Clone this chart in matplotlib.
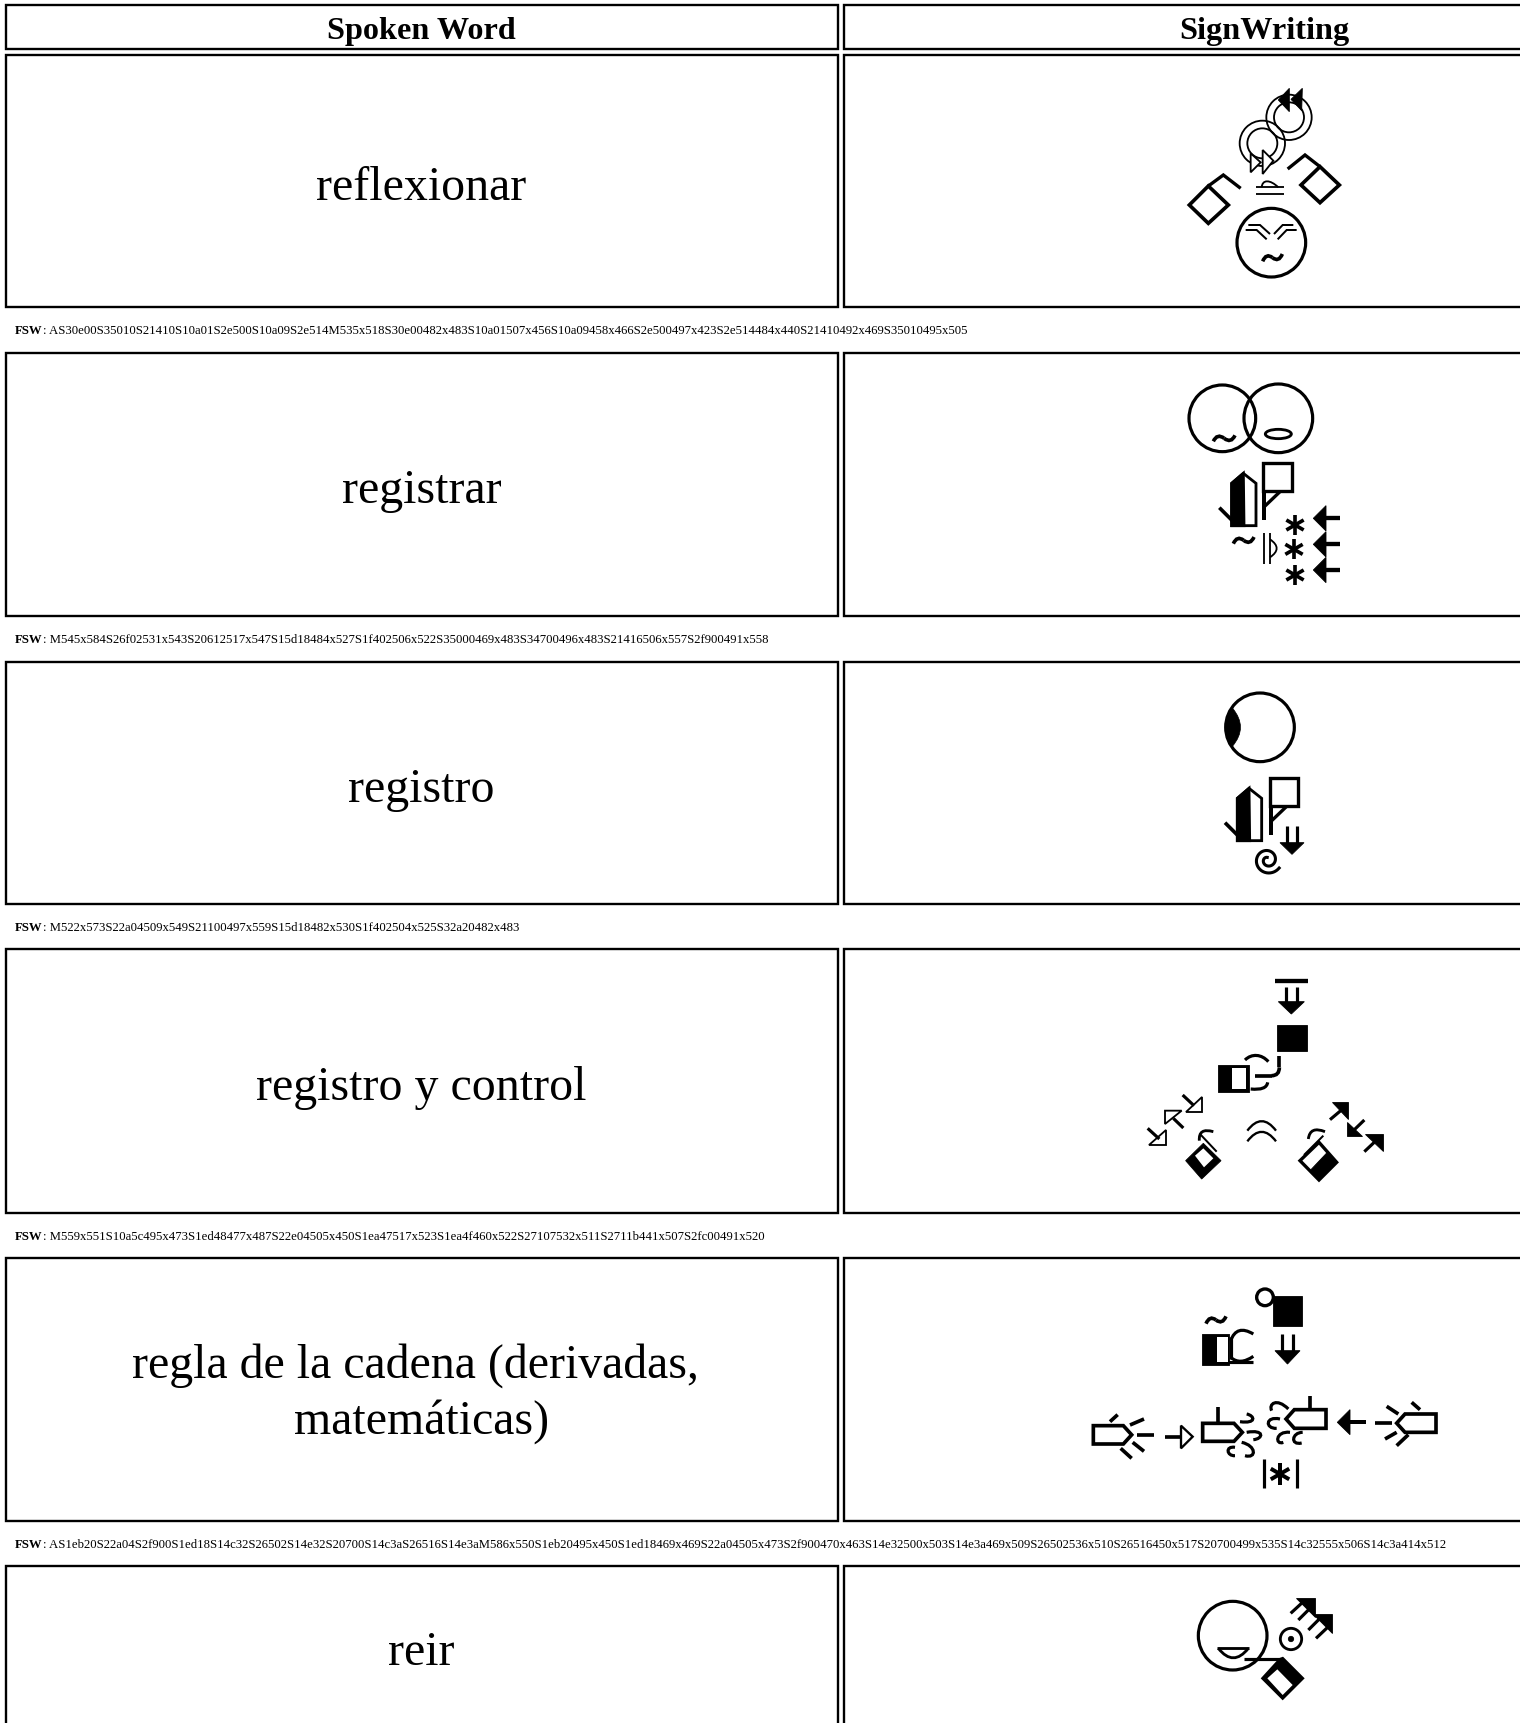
import numpy as np
import matplotlib
matplotlib.use('Agg')
import matplotlib.pyplot as plt
from matplotlib.patches import Rectangle, Polygon, Circle, Ellipse, PathPatch
from matplotlib.path import Path

# table content
headers = ['Spoken Word', 'SignWriting']
words = ['reflexionar', 'registrar', 'registro', 'registro y control',
         'regla de la cadena (derivadas, \nmatemáticas)', 'reir']
fsw = [
    'AS30e00S35010S21410S10a01S2e500S10a09S2e514M535x518S30e00482x483S10a01507x456S10a09458x466S2e500497x423S2e514484x440S21410492x469S35010495x505',
    'M545x584S26f02531x543S20612517x547S15d18484x527S1f402506x522S35000469x483S34700496x483S21416506x557S2f900491x558',
    'M522x573S22a04509x549S21100497x559S15d18482x530S1f402504x525S32a20482x483',
    'M559x551S10a5c495x473S1ed48477x487S22e04505x450S1ea47517x523S1ea4f460x522S27107532x511S2711b441x507S2fc00491x520',
    'AS1eb20S22a04S2f900S1ed18S14c32S26502S14e32S20700S14c3aS26516S14e3aM586x550S1eb20495x450S1ed18469x469S22a04505x473S2f900470x463S14e32500x503S14e3a469x509S26502536x510S26516450x517S20700499x535S14c32555x506S14c3a414x512',
]

# layout in pixels
W, H = 1520, 1724
col_x = [(6, 838), (844, 1540)]
header_y = (6, 50)
row_y = [(56, 308), (354, 617), (663, 905), (950, 1214), (1259, 1522), (1567, 1760)]

fig = plt.figure(figsize=(W / 100, H / 100), dpi=100)
ax = fig.add_axes([0, 0, 1, 1])
ax.set_xlim(0, W)
ax.set_ylim(H, 0)
ax.axis('off')

SERIF = 'Liberation Serif'
BORDER = 1.7


def cell(x0, x1, y0, y1):
    ax.add_patch(Rectangle((x0, y0), x1 - x0, y1 - y0, fc='white', ec='black', lw=BORDER))


for (x0, x1), title in zip(col_x, headers):
    cell(x0, x1, *header_y)
    ax.text((x0 + x1) / 2 - 1 if x1 < W else 1264, 31, title, family=SERIF, weight='bold',
            fontsize=23.2, ha='center', va='center')

for i, word in enumerate(words):
    y0, y1 = row_y[i]
    for x0, x1 in col_x:
        cell(x0, x1, y0, y1)
    yc = (y0 + y1) / 2 if i < 5 else 1650
    ax.text(421.5, yc + (6 if i < 4 else 3), word, family=SERIF, fontsize=34.5, ha='center', va='center',
            linespacing=1.3)
    if i < len(fsw):
        t = ax.text(15, y1 + 23, 'FSW', family=SERIF, weight='bold', fontsize=9.18, va='center')
        ax.annotate(': ' + fsw[i], xycoords=t, xy=(1, 0.5), va='center', family=SERIF, fontsize=9.18)

ox, oy = 0, 0
K = 1.2


def at(x, y):
    global ox, oy
    ox, oy = x, y


def P(pts):
    return [(ox + a / 3, oy + b / 3) for a, b in pts]


def line(*pts, lw=1.7):
    xy = P(pts)
    ax.plot([p[0] for p in xy], [p[1] for p in xy], color='black', lw=lw * K,
            solid_capstyle='butt', solid_joinstyle='miter')


def poly(*pts, fc='black', lw=1.7):
    ax.add_patch(Polygon(P(pts), closed=True, fc=fc, ec='black', lw=lw * K, joinstyle='miter'))


def circ(x, y, r, fc='none', lw=1.7):
    ax.add_patch(Circle(P([(x, y)])[0], r / 3, fc=fc, ec='black', lw=lw * K))


def curve(*pts, lw=1.7):
    # one quadratic or cubic bezier per call
    codes = [Path.MOVETO] + [Path.CURVE3 if len(pts) == 3 else Path.CURVE4] * (len(pts) - 1)
    ax.add_patch(PathPatch(Path(P(pts), codes), fc='none', ec='black', lw=lw * K, capstyle='butt'))


def tilde(x0, y0, x1, y1, lw=2.2):
    dx, dy = x1 - x0, y1 - y0
    curve((x0, y0 + 6), (x0 + dx * .18, y0 - 18 + dy * .2), (x0 + dx * .5, y0 + dy * .5),
          lw=lw)
    curve((x0 + dx * .5, y0 + dy * .5), (x0 + dx * .82, y1 + 18 - dy * .2), (x1, y1 - 6), lw=lw)


def star(x, y, r, lw=2.2):
    for a in (90, 30, 150):
        dx, dy = r * np.cos(np.radians(a)), r * np.sin(np.radians(a))
        line((x - dx, y - dy), (x + dx, y + dy), lw=lw)


def hand_v(dx, dy):
    # upright hand with black half and thumb
    poly((395 + dx, 497 + dy), (395 + dx, 370 + dy), (430 + dx, 340 + dy), (468 + dx, 370 + dy),
         (468 + dx, 497 + dy), fc='white')
    poly((395 + dx, 497 + dy), (395 + dx, 370 + dy), (430 + dx, 340 + dy), (432 + dx, 497 + dy))
    line((358 + dx, 443 + dy), (400 + dx, 485 + dy), lw=2.2)


def flag(dx, dy):
    ax.add_patch(Rectangle(P([(490 + dx, 310 + dy)])[0], 85 / 3, 82 / 3, fc='none', ec='black', lw=2.0 * K))
    line((493 + dx, 392 + dy), (493 + dx, 480 + dy), lw=2.4)
    line((493 + dx, 440 + dy), (540 + dx, 395 + dy), lw=2.0)


def down_arrow(x0, x1, y0, y1, tx0, tx1, tip):
    line((x0, y0), (x0, y1), lw=1.9)
    line((x1, y0), (x1, y1), lw=1.9)
    poly((tx0, y1), (tx1, y1), ((tx0 + tx1) / 2, tip), lw=0.5)


def bug(tip_x, base_x, top, bot):
    mid = (top + bot) / 2
    step = 25 if tip_x > base_x else -25
    poly((base_x, top), (tip_x - step, top), (tip_x, mid), (tip_x - step, bot), (base_x, bot), fc='white', lw=2.2)


# reflexionar
at(1100, 71)
circ(567, 142, 68, lw=1.1)
circ(567, 142, 45, lw=1.1)
circ(487, 220, 68, lw=1.1)
circ(487, 220, 45, lw=1.1)
poly((535, 90), (568, 55), (568, 125), lw=0.5)
poly((573, 88), (607, 55), (605, 122), lw=0.5)
poly((452, 250), (482, 277), (452, 307), fc='white', lw=1.1)
poly((488, 240), (520, 272), (488, 312), fc='white', lw=1.1)
poly((268, 405), (325, 460), (385, 405), (325, 348), fc='none', lw=2.2)
line((325, 348), (370, 315), (422, 355), lw=2.0)
poly((603, 345), (660, 398), (718, 345), (660, 290), fc='none', lw=2.2)
line((660, 290), (615, 255), (563, 297), lw=2.0)
line((468, 352), (553, 352), lw=1.1)
line((468, 372), (553, 372), lw=1.1)
curve((485, 352), (487, 328), (510, 328), (535, 352), lw=1.1)
circ(514, 518, 103, lw=1.9)
line((437, 480), (470, 480), (500, 508), lw=1.2)
line((445, 465), (480, 465), (510, 492), lw=1.2)
line((590, 480), (560, 480), (533, 508), lw=1.2)
line((580, 465), (548, 465), (522, 492), lw=1.2)
tilde(488, 568, 547, 558)

# registrar
at(1100, 361)
circ(367, 175, 100, lw=1.9)
circ(535, 175, 103, lw=1.9)
tilde(340, 238, 405, 232)
ax.add_patch(Ellipse(P([(535, 222)])[0], 78 / 3, 28 / 3, fc='none', ec='black', lw=1.7 * K))
hand_v(0, 0)
flag(0, 0)
tilde(400, 545, 462, 537)
line((492, 520), (492, 612), lw=1.1)
line((510, 520), (510, 612), lw=1.1)
curve((510, 538), (550, 565), (510, 592), lw=1.1)
star(585, 495, 30)
star(582, 568, 30)
star(585, 645, 30)
for ya in (475, 553, 630):
    poly((640, ya), (678, ya - 38), (678, ya + 38), lw=0.5)
    line((675, ya), (720, ya), lw=2.6)

# registro
at(1100, 671)
circ(480, 172, 103, lw=1.9)
ax.add_patch(PathPatch(Path(P([(398, 115), (355, 172), (398, 228), (445, 172), (398, 115)]),
                            [Path.MOVETO, Path.CURVE3, Path.CURVE3, Path.CURVE3, Path.CURVE3]),
                       fc='black', ec='black', lw=0.5))
hand_v(17, 15)
flag(19, 15)
down_arrow(562, 590, 468, 518, 540, 612, 553)
phi = np.radians(np.linspace(35, 620, 80))
rad = np.linspace(42, 8, 80)
ax.plot(*zip(*P(list(zip(503 + rad * np.cos(phi), 570 + rad * np.sin(phi))))), color='black', lw=2.2)

# registro y control
at(1120, 960)
line((465, 66), (565, 66), lw=2.6)
down_arrow(497, 530, 85, 128, 475, 553, 165)
poly((470, 198), (560, 198), (560, 277), (470, 277), lw=0.5)
poly((297, 322), (385, 322), (385, 397), (297, 397))
poly((337, 328), (378, 328), (378, 390), (337, 390), fc='white', lw=0)
curve((375, 303), (395, 283), (425, 285), (445, 308), lw=1.9)
line((478, 292), (478, 325), lw=2.2)
curve((478, 325), (478, 350), (455, 350), lw=2.2)
line((455, 350), (405, 350), lw=2.2)
curve((392, 390), (440, 395), (443, 370), lw=1.9)
poly((245, 415), (245, 458), (197, 458), fc='white', lw=1.1)
line((188, 408), (222, 440), lw=1.9)
poly((135, 455), (185, 455), (135, 495), fc='white', lw=1.1)
line((160, 478), (190, 507), lw=1.9)
poly((138, 512), (138, 557), (88, 557), fc='white', lw=1.1)
line((83, 508), (118, 540), lw=1.9)
poly((635, 430), (685, 430), (685, 480), lw=0.5)
line((630, 482), (668, 450), lw=1.9)
poly((680, 490), (680, 530), (725, 530), lw=0.5)
line((733, 483), (700, 515), lw=1.9)
poly((735, 525), (788, 525), (788, 575), lw=0.5)
line((733, 578), (768, 545), lw=1.9)
curve((382, 515), (425, 458), (468, 515), lw=1.4)
curve((382, 547), (425, 490), (468, 547), lw=1.4)
poly((197, 605), (250, 553), (303, 605), (245, 660), lw=0.5)
poly((225, 590), (250, 568), (280, 598), (252, 625), fc='white', lw=0)
curve((238, 545), (235, 505), (280, 518), lw=1.7)
line((240, 525), (290, 578), lw=1.2)
poly((540, 605), (597, 550), (650, 610), (597, 663), fc='white', lw=2.0)
poly((597, 663), (570, 635), (622, 580), (650, 610), lw=0.5)
curve((565, 540), (570, 500), (615, 518), lw=1.7)
line((610, 530), (552, 588), lw=1.2)

# regla de la cadena
at(1080, 1270)
circ(555, 85, 25, lw=2.0)
poly((578, 82), (667, 82), (667, 170), (578, 170), lw=0.5)
down_arrow(605, 640, 195, 245, 585, 660, 285)
tilde(378, 158, 438, 148)
poly((368, 197), (445, 197), (445, 285), (368, 285))
poly((410, 205), (445, 205), (445, 278), (410, 278), fc='white', lw=0)
line((452, 205), (452, 270), lw=1.9)
curve((520, 195), (470, 165), (452, 215), lw=1.9)
curve((452, 265), (480, 290), (520, 262), lw=1.9)
line((445, 278), (520, 278), lw=1.9)
bug(155, 40, 470, 525)
for a, b in [((90, 458), (113, 437)), ((150, 468), (192, 450)), ((172, 497), (222, 497)),
             ((158, 520), (192, 547)), ((122, 538), (155, 568))]:
    line(a, b, lw=2.2)
line((255, 503), (303, 503), lw=2.2)
poly((303, 470), (338, 503), (303, 538), fc='white', lw=1.4)
bug(487, 368, 463, 517)
line((415, 415), (415, 463), lw=2.2)
curve((480, 458), (530, 465), (525, 440), (500, 435), lw=1.9)
curve((500, 490), (555, 480), (550, 510), (520, 512), lw=1.9)
curve((465, 535), (435, 530), (440, 562), (465, 560), lw=1.9)
curve((485, 520), (530, 530), (530, 570), (495, 560), lw=1.9)
bug(618, 738, 422, 478)
line((690, 380), (690, 422), lw=2.2)
curve((625, 420), (590, 385), (565, 405), (575, 425), lw=1.9)
curve((600, 450), (555, 440), (555, 480), (590, 478), lw=1.9)
curve((630, 490), (585, 485), (585, 530), (610, 520), lw=1.9)
curve((668, 490), (635, 490), (630, 530), (665, 522), lw=1.9)
poly((772, 460), (810, 422), (810, 497), lw=0.5)
line((805, 460), (858, 460), lw=2.4)
bug(950, 1068, 435, 490)
for a, b in [((920, 412), (955, 435)), ((995, 400), (1020, 422)), ((885, 462), (935, 462)),
             ((915, 510), (950, 490)), ((950, 530), (985, 497))]:
    line(a, b, lw=2.2)
line((552, 570), (552, 658), lw=1.9)
line((650, 570), (650, 658), lw=1.9)
star(600, 615, 32, lw=2.4)

# reir
at(1160, 1571)
circ(218, 197, 103, lw=1.9)
line((172, 235), (268, 235), lw=1.7)
curve((175, 235), (220, 292), (265, 235), lw=1.7)
poly((360, 268), (368, 265), (428, 325), (368, 385), (308, 325))
poly((322, 325), (352, 298), (398, 345), (368, 375), fc='white', lw=0)
line((252, 268), (362, 268), lw=1.9)
circ(393, 207, 32, lw=1.7)
circ(393, 207, 8, fc='black', lw=0.5)
poly((407, 83), (465, 83), (465, 140), lw=0.5)
poly((460, 133), (515, 133), (515, 188), lw=0.5)
for a, b in [((392, 130), (430, 95)), ((415, 150), (450, 115)), ((445, 180), (480, 145)), ((468, 205), (505, 170))]:
    line(a, b, lw=1.9)

fig.savefig('out.png', dpi=100, facecolor='white')
